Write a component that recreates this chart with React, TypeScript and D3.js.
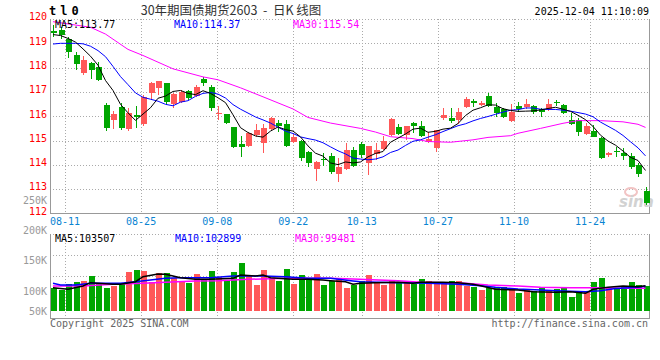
// KLineChart: 30-year treasury futures daily candles + volume, sina style
import React, { useEffect, useRef } from 'react'
import * as d3 from 'd3'

const dates = [
  '08-07', '08-08', '08-11', '08-12', '08-13', '08-14', '08-15', '08-18', '08-19', '08-20',
  '08-21', '08-22', '08-25', '08-26', '08-27', '08-28', '08-29', '09-01', '09-02', '09-03',
  '09-04', '09-05', '09-08', '09-09', '09-10', '09-11', '09-12', '09-15', '09-16', '09-17',
  '09-18', '09-19', '09-22', '09-23', '09-24', '09-25', '09-26', '09-29', '09-30', '10-09',
  '10-10', '10-13', '10-14', '10-15', '10-16', '10-17', '10-20', '10-21', '10-22', '10-23',
  '10-24', '10-27', '10-28', '10-29', '10-30', '10-31', '11-03', '11-04', '11-05', '11-06',
  '11-07', '11-10', '11-11', '11-12', '11-13', '11-14', '11-17', '11-18', '11-19', '11-20',
  '11-21', '11-24', '11-25', '11-26', '11-27', '11-28', '12-01', '12-02', '12-03', '12-04'
]

const opens = [
  119.49, 119.55, 119.18, 118.52, 117.79, 118.18, 118.04, 116.46, 115.85, 116.37,
  115.48, 116.05, 115.68, 116.97, 117.15, 117.38, 116.50, 116.60, 117.04, 116.83,
  117.53, 117.22, 116.08, 116.09, 115.55, 114.86, 114.78, 115.23, 114.89, 115.46,
  115.73, 115.67, 114.93, 114.99, 114.54, 113.84, 114.24, 114.36, 113.61, 113.82,
  114.61, 114.85, 114.09, 114.45, 114.65, 115.23, 115.57, 115.23, 115.73, 115.60,
  114.94, 114.71, 115.93, 115.92, 115.85, 116.37, 116.63, 116.46, 116.83, 116.37,
  116.29, 115.82, 116.42, 116.39, 116.42, 116.29, 116.29, 116.59, 116.46, 115.85,
  115.85, 115.27, 115.39, 115.12, 114.41, 114.58, 114.50, 114.36, 113.99, 112.94
]
const highs = [
  119.75, 119.68, 119.27, 118.63, 118.48, 118.24, 118.24, 116.56, 116.22, 116.53,
  116.33, 116.43, 116.87, 117.42, 117.45, 117.38, 116.97, 117.08, 117.08, 117.29,
  117.63, 117.29, 116.42, 116.09, 115.57, 115.19, 115.35, 115.68, 115.68, 115.98,
  115.85, 115.85, 115.27, 115.02, 114.58, 114.16, 114.50, 114.48, 114.29, 114.89,
  114.72, 114.95, 114.78, 114.89, 115.19, 115.92, 115.68, 115.61, 115.78, 115.82,
  115.36, 115.43, 116.34, 116.35, 116.33, 116.80, 116.71, 116.64, 116.97, 116.53,
  116.33, 116.50, 116.57, 116.71, 116.46, 116.33, 116.71, 116.67, 116.50, 116.12,
  115.92, 115.71, 115.64, 115.16, 114.54, 114.75, 114.68, 114.50, 114.06, 113.10
]
const lows = [
  119.27, 119.18, 118.41, 117.90, 117.68, 117.52, 117.46, 115.41, 115.46, 115.43,
  115.39, 115.50, 115.60, 116.67, 116.87, 116.46, 116.33, 116.53, 116.67, 116.80,
  117.26, 116.23, 115.85, 115.67, 114.68, 114.34, 114.72, 115.16, 114.50, 115.41,
  115.36, 114.72, 114.89, 114.17, 113.90, 113.35, 113.95, 113.62, 113.31, 113.79,
  113.91, 114.27, 113.58, 114.20, 114.61, 115.19, 115.23, 115.02, 115.32, 115.13,
  114.89, 114.54, 115.85, 115.73, 115.67, 116.33, 116.37, 116.42, 116.39, 115.98,
  115.92, 115.78, 116.19, 116.29, 116.08, 115.96, 116.23, 116.42, 116.08, 115.64,
  115.20, 115.23, 115.13, 114.24, 114.31, 114.31, 114.20, 113.82, 113.51, 112.35
]
const closes = [
  119.42, 119.34, 118.63, 118.15, 118.31, 117.90, 117.49, 115.50, 116.08, 115.50,
  116.12, 115.96, 116.80, 117.36, 117.45, 116.60, 116.90, 117.01, 116.74, 117.22,
  117.36, 116.35, 116.12, 115.73, 114.72, 114.75, 115.32, 115.43, 115.50, 115.94,
  115.61, 114.79, 115.13, 114.29, 114.06, 114.13, 114.20, 113.72, 113.92, 114.61,
  113.95, 114.41, 114.78, 114.61, 114.99, 115.87, 115.27, 115.60, 115.61, 115.19,
  115.05, 115.43, 116.05, 115.82, 116.16, 116.70, 116.53, 116.53, 116.42, 116.12,
  115.96, 116.19, 116.30, 116.50, 116.16, 116.16, 116.50, 116.53, 116.12, 115.68,
  115.36, 115.60, 115.16, 114.29, 114.48, 114.52, 114.38, 113.90, 113.61, 112.44
]

const volumes = [
  100400, 96600, 106000, 109800, 111500, 120200, 108700, 100400, 103200, 108700,
  126800, 129600, 128500, 109300, 124700, 124700, 116900, 111500, 108700, 123000,
  114300, 128000, 117600, 113100, 126300, 141200, 121400, 104900, 129600, 114300,
  111500, 131300, 106500, 121400, 115900, 123000, 104900, 111500, 114300, 100400,
  104900, 111500, 121400, 107700, 104900, 111500, 108700, 109800, 106000, 114800,
  111500, 109300, 109300, 111500, 111500, 103200, 101600, 96600, 99400, 102100,
  102100, 100400, 92200, 96600, 95000, 99400, 96600, 98300, 101100, 85600,
  93800, 92800, 109800, 116400, 100400, 98300, 102100, 109800, 104900, 103200
]

// price moving averages, one value per day
const ma5 = [
  119.36, 119.32, 119.20, 119.05, 118.77, 118.47, 118.10, 117.47, 117.06, 116.49,
  116.14, 115.83, 116.09, 116.35, 116.74, 116.83, 117.02, 117.06, 116.94, 116.89,
  117.05, 116.94, 116.76, 116.56, 116.06, 115.53, 115.33, 115.19, 115.14, 115.39,
  115.56, 115.45, 115.39, 115.15, 114.78, 114.48, 114.36, 114.08, 114.01, 114.12,
  114.08, 114.12, 114.33, 114.47, 114.55, 114.93, 115.10, 115.27, 115.47, 115.51,
  115.34, 115.38, 115.47, 115.51, 115.70, 116.03, 116.25, 116.35, 116.47, 116.46,
  116.31, 116.24, 116.20, 116.21, 116.22, 116.26, 116.32, 116.37, 116.29, 116.20,
  116.04, 115.86, 115.58, 115.22, 114.98, 114.81, 114.57, 114.31, 114.18, 113.77
]
const ma10 = [
  118.97, 119.00, 119.00, 119.00, 118.98, 118.88, 118.70, 118.45, 118.05, 117.63,
  117.30, 116.96, 116.78, 116.70, 116.62, 116.49, 116.43, 116.58, 116.64, 116.82,
  116.94, 116.98, 116.91, 116.75, 116.48, 116.29, 116.13, 115.97, 115.85, 115.72,
  115.55, 115.39, 115.29, 115.15, 115.08, 115.02, 114.91, 114.74, 114.58, 114.45,
  114.28, 114.24, 114.21, 114.24, 114.33, 114.51, 114.61, 114.80, 114.97, 115.03,
  115.14, 115.24, 115.37, 115.49, 115.61, 115.69, 115.81, 115.91, 115.99, 116.08,
  116.17, 116.25, 116.27, 116.34, 116.34, 116.29, 116.28, 116.28, 116.25, 116.21,
  116.15, 116.09, 115.98, 115.76, 115.59, 115.42, 115.21, 114.95, 114.70, 114.37
]
// [day index, value]
const ma30 = [
  [0, 119.89], [5, 119.66], [7, 119.38], [10, 118.75], [12, 118.5], [16, 117.95],
  [20, 117.62], [22, 117.5], [25, 117.17], [28, 116.8], [32, 116.3], [34, 115.95],
  [37, 115.72], [41, 115.5], [43, 115.35], [45, 115.16], [48, 115.08], [50, 114.96],
  [53, 114.93], [56, 115.03], [58, 115.13], [61, 115.2], [62, 115.3], [65, 115.5],
  [68, 115.71], [70, 115.82], [73, 115.82], [76, 115.77], [78, 115.67], [79, 115.54]
]

// volume moving averages, [day index, value]
const volMa5 = [
  [0, 100400], [2, 97800], [4, 103200], [5, 108700], [8, 106000], [9, 106000],
  [11, 110300], [12, 118600], [14, 123000], [15, 122500], [17, 116900], [19, 114300],
  [21, 114300], [24, 115900], [25, 121400], [27, 119700], [28, 121400], [29, 116900],
  [32, 114300], [34, 114300], [36, 113100], [37, 112000], [39, 110300], [40, 106000],
  [41, 107700], [43, 108700], [46, 109300], [48, 107700], [49, 109300], [52, 109300],
  [54, 108700], [56, 106000], [57, 103700], [59, 97800], [62, 96600], [64, 93800],
  [67, 92800], [69, 93800], [71, 91200], [72, 97800], [74, 101100], [76, 103200],
  [78, 102100], [79, 103507]
]
const volMa10 = [
  [0, 107700], [1, 104900], [3, 104900], [5, 107700], [9, 107700], [11, 110300],
  [13, 113100], [15, 115900], [17, 116900], [21, 116900], [24, 119700], [28, 119700],
  [31, 118600], [34, 115900], [37, 115900], [40, 111500], [41, 110300], [46, 108700],
  [50, 107700], [54, 106000], [57, 103700], [59, 101100], [62, 98300], [65, 96600],
  [68, 95000], [71, 93800], [73, 95500], [75, 99000], [78, 101200], [79, 102899]
]
const volMa30 = [
  [0, 103200], [4, 103200], [8, 106000], [12, 107700], [15, 109300], [19, 111500],
  [22, 112000], [26, 114300], [31, 115900], [37, 115900], [40, 114800], [46, 112000],
  [49, 109300], [55, 107700], [58, 104900], [62, 103200], [65, 101100], [69, 100400],
  [72, 100400], [76, 99400], [79, 99481]
]

const priceTicks = [112, 113, 114, 115, 116, 117, 118, 119, 120]
const volTicks = [50000, 100000, 150000, 200000, 250000]
const dateTicks = ['08-11', '08-25', '09-08', '09-22', '10-13', '10-27', '11-10', '11-24']

const RED = '#ff5858'
const GREEN = '#00a600'
const MONO = "'DejaVu Sans Mono', monospace"

function KLineChart () {
  const ref = useRef<SVGSVGElement>(null)

  useEffect(() => {
    const svg = d3.select(ref.current)
    svg.selectAll('*').remove()

    const left = 50
    const right = 649
    const top = 19
    const bottom = 213.5
    const volTop = 234
    const volBottom = 318
    const volBase = 311

    const x = d3.scaleBand().domain(dates).range([49.25, 649.25])
    const cx = (i: number) => (x(dates[i]) as number) + x.bandwidth() / 2
    // the date grid uses a slightly wider step than the candle slots
    const gx = d3.scaleLinear().domain([0, dates.length - 1]).range([49.8, 651])
    const y = d3.scaleLinear().domain([112, 120]).range([bottom, top])
    const yv = d3.scaleLinear().domain([62000, 250000]).range([volBase, 197])

    const text = (tx: number, ty: number, s: string, color: string, anchor = 'start', size = 10, family = MONO) =>
      svg.append('text')
        .attr('x', tx)
        .attr('y', ty)
        .attr('fill', color)
        .attr('text-anchor', anchor)
        .attr('font-size', size)
        .attr('font-family', family)
        .style('white-space', 'pre')
        .text(s)

    // grid
    const grid = svg.append('g')
      .attr('stroke', '#aaa')
      .attr('stroke-dasharray', '1,2')
      .attr('shape-rendering', 'crispEdges')
    dateTicks.forEach(d => {
      const lx = Math.round(gx(dates.indexOf(d))) + 0.5
      grid.append('line').attr('x1', lx).attr('x2', lx).attr('y1', top).attr('y2', bottom)
      grid.append('line').attr('x1', lx).attr('x2', lx).attr('y1', volTop).attr('y2', volBottom)
    })
    priceTicks.slice(1).forEach(v => {
      const ly = Math.round(y(v)) + 0.5
      grid.append('line').attr('x1', left).attr('x2', right).attr('y1', ly).attr('y2', ly)
    })
    d3.range(4).forEach(k => {
      const ly = Math.round(volTop + k * (volBottom - volTop) / 4) + 0.5
      grid.append('line').attr('x1', left).attr('x2', right).attr('y1', ly).attr('y2', ly)
    })

    // frame
    const frame = svg.append('g')
      .attr('stroke', '#999')
      .attr('shape-rendering', 'crispEdges')
    frame.append('line').attr('x1', left + 0.5).attr('x2', left + 0.5).attr('y1', top).attr('y2', bottom + 0.5)
    frame.append('line').attr('x1', right + 0.5).attr('x2', right + 0.5).attr('y1', top).attr('y2', bottom + 0.5)
    frame.append('line').attr('x1', left).attr('x2', right + 1).attr('y1', bottom).attr('y2', bottom)
    frame.append('line').attr('x1', left + 0.5).attr('x2', left + 0.5).attr('y1', volTop).attr('y2', volBottom + 0.5)
    frame.append('line').attr('x1', right + 0.5).attr('x2', right + 0.5).attr('y1', volTop).attr('y2', volBottom + 0.5)
    frame.append('line').attr('x1', left).attr('x2', right + 1).attr('y1', volBottom + 0.5).attr('y2', volBottom + 0.5)

    // sina watermark
    svg.append('ellipse')
      .attr('cx', 631).attr('cy', 192).attr('rx', 6).attr('ry', 4)
      .attr('fill', 'none').attr('stroke', '#f2c4c4').attr('stroke-width', 2)
    svg.append('text')
      .attr('x', 619).attr('y', 207)
      .attr('fill', '#d2d2d2')
      .attr('font-size', 15)
      .attr('font-weight', 'bold')
      .attr('font-style', 'italic')
      .attr('font-family', 'DejaVu Sans, sans-serif')
      .text('sina')

    // candles
    const candles = svg.append('g').attr('shape-rendering', 'crispEdges')
    dates.forEach((d, i) => {
      const color = closes[i] >= opens[i] ? RED : GREEN
      const bx = Math.round(cx(i) - 3)
      candles.append('line')
        .attr('x1', bx + 3.5).attr('x2', bx + 3.5)
        .attr('y1', y(highs[i])).attr('y2', y(lows[i]))
        .attr('stroke', color)
      candles.append('rect')
        .attr('x', bx + 0.5)
        .attr('y', y(Math.max(opens[i], closes[i])))
        .attr('width', 6)
        .attr('height', Math.max(1, Math.abs(y(opens[i]) - y(closes[i]))))
        .attr('fill', color)
    })

    // volume bars
    svg.append('g')
      .attr('shape-rendering', 'crispEdges')
      .selectAll('rect')
      .data(volumes)
      .enter()
      .append('rect')
      .attr('x', (v, i) => Math.round(cx(i) - 3) + 0.5)
      .attr('y', v => yv(v))
      .attr('width', 6)
      .attr('height', v => volBase - yv(v))
      .attr('fill', (v, i) => closes[i] >= opens[i] ? RED : GREEN)

    // moving averages
    const priceLine = d3.line<number[]>().x(p => cx(p[0])).y(p => y(p[1]))
    const volLine = d3.line<number[]>().x(p => cx(p[0])).y(p => yv(p[1]))
    const drawLine = (pts: number[][], gen: any, color: string, w = 1) =>
      svg.append('path')
        .datum(pts)
        .attr('d', gen)
        .attr('fill', 'none')
        .attr('stroke', color)
        .attr('stroke-width', w)
    drawLine(ma30, priceLine, '#ff00ff')
    drawLine(ma10.map((v, i) => [i, v]), priceLine, '#0000ff')
    drawLine(ma5.map((v, i) => [i, v]), priceLine, '#000000')
    drawLine(volMa30, volLine, '#ff00ff', 1.5)
    drawLine(volMa10, volLine, '#0000ff', 1.5)
    drawLine(volMa5, volLine, '#000000', 1.5)

    // axis labels
    priceTicks.forEach(v => text(47, y(v) + 1.3, String(v), '#ff0000', 'end'))
    volTicks.forEach(v => text(47, Math.min(yv(v) + 3, 311) + 3.6, v / 1000 + 'K', '#999', 'end'))
    dateTicks.forEach(d => text(gx(dates.indexOf(d)), 225, d, '#0a84d2', 'middle'))

    // legends
    text(55, 27.5, 'MA5:113.77', '#000')
    text(174, 27.5, 'MA10:114.37', '#0000ff')
    text(293, 27.5, 'MA30:115.54', '#ff00ff')
    text(55, 242, 'MA5:103507', '#000')
    text(175, 242, 'MA10:102899', '#0000ff')
    text(295, 242, 'MA30:99481', '#ff00ff')

    // header and footer
    svg.append('text')
      .attr('x', 49).attr('y', 15)
      .attr('font-size', 12)
      .attr('font-weight', 'bold')
      .attr('font-family', MONO)
      .attr('letter-spacing', 4)
      .text('tl0')
    text(231, 15, '30年期国债期货2603  -  日K 线图', '#333', 'middle', 12.5, "'Noto Sans CJK SC', sans-serif")
    text(649, 15, '2025-12-04 11:10:09', '#000', 'end')
    text(50, 327, 'Copyright 2025 SINA.COM', '#666')
    text(648, 327, 'http://finance.sina.com.cn', '#666', 'end')
  }, [])

  return <svg ref={ref} width={660} height={360} style={{ position: 'absolute', left: 0, top: 0, background: '#fff' }} />
}

export default function App () {
  return <KLineChart />
}
